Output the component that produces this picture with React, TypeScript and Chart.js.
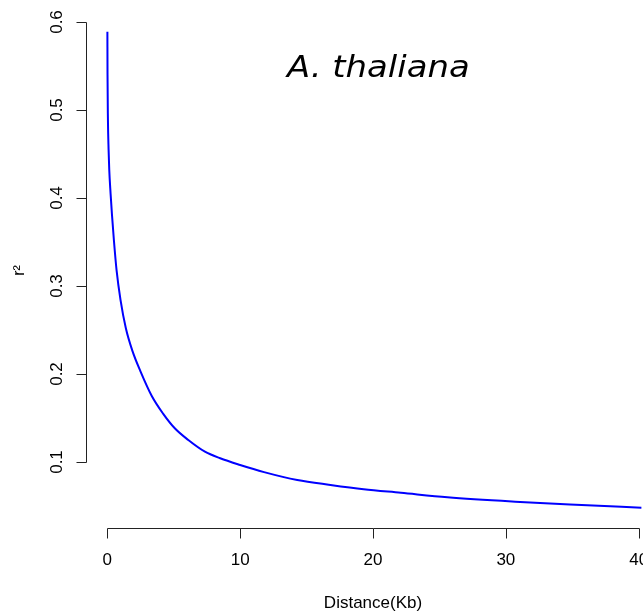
import React, { useEffect, useRef } from "react";
import { Chart, registerables } from "chart.js";

Chart.register(...registerables);

// LD decay: mean r² against pairwise distance (Kb)
const DISTANCE_KB = [
  0.01, 0.02, 0.05, 0.1, 0.15, 0.25, 0.35, 0.5, 0.7, 1.0, 1.4, 1.9, 2.5, 3.35,
  4.2, 5.1, 6.1, 7.35, 8.5, 10.0, 11.8, 14.3, 16.8, 19.3, 22.1, 25.6, 30.7,
  35.7, 40.2,
];
const R_SQUARED = [
  0.589, 0.54, 0.49, 0.455, 0.432, 0.405, 0.382, 0.352, 0.318, 0.284, 0.252,
  0.226, 0.203, 0.175, 0.155, 0.138, 0.125, 0.1117, 0.1042, 0.0966, 0.0885,
  0.0795, 0.0739, 0.069, 0.065, 0.0599, 0.0549, 0.0511, 0.048,
];

const X_TICKS = [0, 10, 20, 30, 40];
const Y_TICKS = [0.1, 0.2, 0.3, 0.4, 0.5, 0.6];

const X_TITLE = "Distance(Kb)";
const Y_TITLE = "r²";
const SPECIES = "A. thaliana";
const SPECIES_AT = { x: 20.4, y: 0.538 };

const AXIS_FONT = '"Liberation Sans", Arial, Helvetica, sans-serif';
const AXIS_COLOR = "#222222";

// R-style axes: the line only spans the first to the last tick
const rAxes = {
  id: "rAxes",
  afterDraw(chart: any) {
    const { ctx } = chart;
    const xs = chart.scales.x;
    const ys = chart.scales.y;
    ctx.save();
    ctx.strokeStyle = AXIS_COLOR;
    ctx.lineWidth = 1;

    const ax = Math.round(ys.right) + 0.5;
    const y0 = Math.round(ys.getPixelForValue(Y_TICKS[0])) + 0.5;
    const y1 = Math.round(ys.getPixelForValue(Y_TICKS[Y_TICKS.length - 1])) + 0.5;
    ctx.beginPath();
    ctx.moveTo(ax, y0);
    ctx.lineTo(ax, y1);
    for (const v of Y_TICKS) {
      const py = Math.round(ys.getPixelForValue(v)) + 0.5;
      ctx.moveTo(ax, py);
      ctx.lineTo(ax - 10, py);
    }
    ctx.stroke();

    const ay = Math.round(xs.top) + 0.5;
    const x0 = Math.round(xs.getPixelForValue(X_TICKS[0])) + 0.5;
    const x1 = Math.round(xs.getPixelForValue(X_TICKS[X_TICKS.length - 1])) + 0.5;
    ctx.beginPath();
    ctx.moveTo(x0, ay);
    ctx.lineTo(x1, ay);
    for (const v of X_TICKS) {
      const px = Math.round(xs.getPixelForValue(v)) + 0.5;
      ctx.moveTo(px, ay);
      ctx.lineTo(px, ay + 10);
    }
    ctx.stroke();

    // species label inside the plot
    const tx = xs.getPixelForValue(SPECIES_AT.x);
    const ty = ys.getPixelForValue(SPECIES_AT.y);
    ctx.translate(tx, ty);
    ctx.scale(1.13, 1);
    ctx.font = 'italic 30px "DejaVu Sans", Verdana, sans-serif';
    ctx.fillStyle = "#000000";
    ctx.textAlign = "center";
    ctx.textBaseline = "alphabetic";
    ctx.fillText(SPECIES, 0, 0);
    ctx.restore();
  },
};

export default function App() {
  const canvasRef = useRef<HTMLCanvasElement | null>(null);

  useEffect(() => {
    const canvas = canvasRef.current;
    if (!canvas) return;
    const chart = new Chart(canvas, {
      type: "line",
      data: {
        datasets: [
          {
            data: DISTANCE_KB.map((x, i) => ({ x, y: R_SQUARED[i] })),
            borderColor: "#0000ff",
            borderWidth: 2,
            pointRadius: 0,
            fill: false,
            cubicInterpolationMode: "monotone",
          },
        ],
      },
      options: {
        animation: false,
        responsive: false,
        maintainAspectRatio: false,
        layout: { padding: { top: 13, left: 0, right: 0, bottom: 0 } },
        plugins: {
          legend: { display: false },
          tooltip: { enabled: false },
        },
        scales: {
          x: {
            type: "linear",
            min: -1.6,
            max: 41.6,
            grid: { display: false, drawTicks: false },
            border: { display: false },
            afterBuildTicks: (s: any) => {
              s.ticks = X_TICKS.map((value) => ({ value }));
            },
            afterFit: (s: any) => {
              s.height = 84;
              s.paddingLeft = 0;
              s.paddingRight = 0;
            },
            ticks: {
              autoSkip: false,
              maxRotation: 0,
              minRotation: 0,
              padding: 22,
              color: "#000000",
              font: { family: AXIS_FONT, size: 17 },
              callback: (v: any) => String(v),
            },
            title: {
              display: true,
              text: X_TITLE,
              color: "#000000",
              font: { family: AXIS_FONT, size: 17, lineHeight: 1 },
              padding: { top: 0, bottom: 0 },
            },
          },
          y: {
            type: "linear",
            min: 0.025,
            max: 0.61023,
            grid: { display: false, drawTicks: false },
            border: { display: false },
            afterBuildTicks: (s: any) => {
              s.ticks = Y_TICKS.map((value) => ({ value }));
            },
            afterFit: (s: any) => {
              s.width = 86;
              s.paddingTop = 0;
              s.paddingBottom = 0;
            },
            ticks: {
              autoSkip: false,
              minRotation: 90,
              maxRotation: 90,
              crossAlign: "center",
              padding: 17,
              color: "#000000",
              font: { family: AXIS_FONT, size: 17 },
              callback: (v: any) => Number(v).toFixed(1),
            },
            title: {
              display: true,
              text: Y_TITLE,
              color: "#000000",
              font: { family: AXIS_FONT, size: 16, lineHeight: 1 },
              padding: { top: 12, bottom: 0 },
            },
          },
        },
      },
      plugins: [rAxes],
    });
    return () => chart.destroy();
  }, []);

  return (
    <div
      style={{
        position: "absolute",
        left: 0,
        top: 0,
        width: 643,
        height: 612,
        overflow: "hidden",
        background: "#ffffff",
      }}
    >
      <canvas ref={canvasRef} width={660} height={612} style={{ display: "block" }} />
    </div>
  );
}
